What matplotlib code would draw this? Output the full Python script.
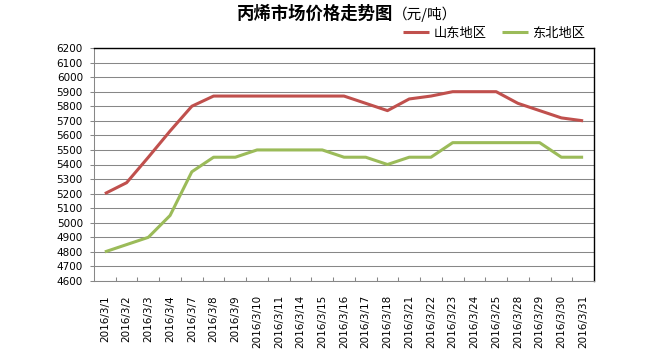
import matplotlib
matplotlib.use("Agg")
import matplotlib.pyplot as plt
import numpy as np

plt.rcParams['font.family'] = ['DejaVu Sans', 'Noto Sans CJK SC']

dates = ["2016/3/1", "2016/3/2", "2016/3/3", "2016/3/4", "2016/3/7", "2016/3/8",
         "2016/3/9", "2016/3/10", "2016/3/11", "2016/3/14", "2016/3/15", "2016/3/16",
         "2016/3/17", "2016/3/18", "2016/3/21", "2016/3/22", "2016/3/23", "2016/3/24",
         "2016/3/25", "2016/3/28", "2016/3/29", "2016/3/30", "2016/3/31"]
shandong = [5200, 5275, 5450, 5630, 5800, 5870, 5870, 5870, 5870, 5870, 5870, 5870,
            5820, 5770, 5850, 5870, 5900, 5900, 5900, 5820, 5770, 5720, 5700]
dongbei = [4800, 4850, 4900, 5050, 5350, 5450, 5450, 5500, 5500, 5500, 5500, 5450,
           5450, 5400, 5450, 5450, 5550, 5550, 5550, 5550, 5550, 5450, 5450]
series_names = ["山东地区", "东北地区"]

W, H = 650, 355
fig = plt.figure(figsize=(W / 100, H / 100), dpi=100)
ax = fig.add_axes([94 / W, 1 - 281 / H, 500 / W, 233 / H])

x = np.arange(len(dates))
ax.plot(x, shandong, color="#C0504D", lw=2.2, label=series_names[0], solid_capstyle="butt")
ax.plot(x, dongbei, color="#9BBB59", lw=2.2, label=series_names[1], solid_capstyle="butt")

ax.set_xlim(-0.5, len(dates) - 0.5)
ax.set_ylim(4600, 6200)
ax.set_yticks(np.arange(4600, 6201, 100))
ax.yaxis.grid(True, color="#878787", lw=0.75)
ax.set_axisbelow(True)

ax.set_xticks(x)
ax.set_xticklabels(dates, rotation=90, fontsize=7.5, va="top", ha="center")
ax.set_xticks(np.arange(0.5, len(dates) - 0.5, 1), minor=True)
ax.tick_params(axis="x", which="major", length=0, pad=10)
ax.tick_params(axis="x", which="minor", direction="in", length=3, color="#878787", width=0.75)
ax.tick_params(axis="y", direction="out", length=3, color="#878787", width=0.75,
               labelsize=7.5, pad=5)

for s in ["left", "bottom"]:
    ax.spines[s].set_color("#878787")
    ax.spines[s].set_linewidth(0.75)
for s in ["top", "right"]:
    ax.spines[s].set_color("black")
    ax.spines[s].set_linewidth(1.0)

fig.text(393 / W, 1 - 14 / H, "丙烯市场价格走势图", ha="right", va="center",
         fontsize=12.5, fontweight="bold", family="Noto Sans CJK SC")
fig.text(393 / W, 1 - 14 / H, "（元/吨）", ha="left", va="center",
         fontsize=10.5, family="Noto Sans CJK SC")

fig.legend(loc="center right", bbox_to_anchor=(592 / W, 1 - 33 / H), ncol=2,
           frameon=False, handlelength=2, handletextpad=0.3, columnspacing=1.2,
           borderpad=0, prop={"family": "Noto Sans CJK SC", "size": 9.5})

fig.savefig("out.png", dpi=100)
